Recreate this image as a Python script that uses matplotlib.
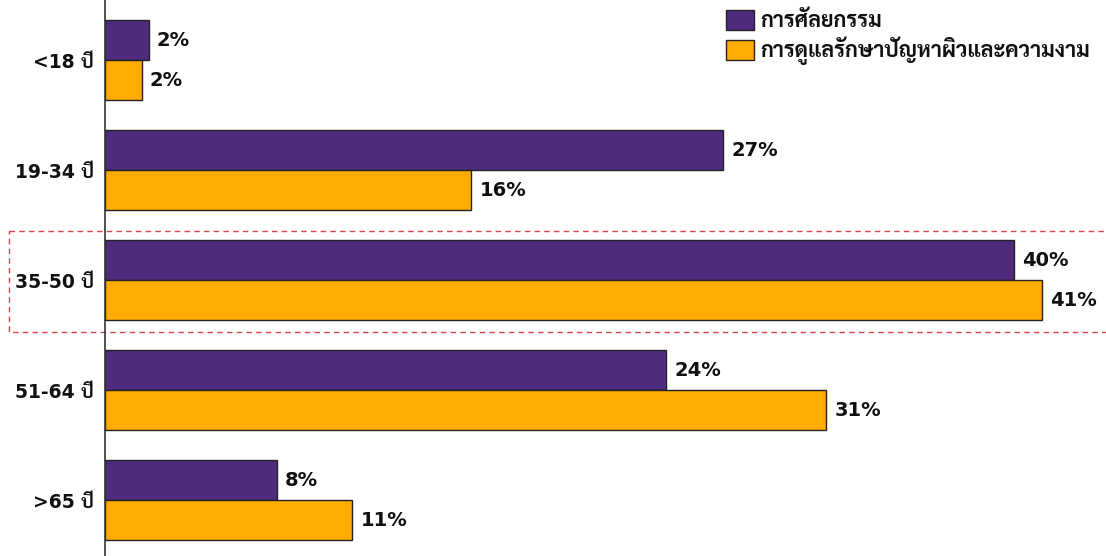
import matplotlib
matplotlib.use("Agg")
import matplotlib.pyplot as plt
from matplotlib.patches import Rectangle

plt.rcParams['font.family'] = ['DejaVu Sans', 'Sarabun', 'Noto Sans Thai Looped', 'Loma', 'Noto Sans Thai']

# age groups, top to bottom
groups = ["<18 ปี", "19-34 ปี", "35-50 ปี", "51-64 ปี", ">65 ปี"]
series_names = ["การศัลยกรรม", "การดูแลรักษาปัญหาผิวและความงาม"]
surgery = [1.9, 27.0, 39.7, 24.5, 7.5]
skincare = [1.6, 16.0, 40.9, 31.5, 10.8]
surgery_labels = ["2%", "27%", "40%", "24%", "8%"]
skincare_labels = ["2%", "16%", "41%", "31%", "11%"]

PURPLE = "#4f2b7e"
ORANGE = "#ffab00"
TEXT = "#111111"

W, H = 1106, 556
fig = plt.figure(figsize=(W / 100, H / 100), dpi=100)
ax = fig.add_axes([105 / W, 0, 1 - 105 / W, 1])

px_per_pct = 22.9
ax.set_xlim(0, (W - 105) / px_per_pct)
ax.set_ylim((H - 60) / 110, -60 / 110)

bh = 40 / 110
ys = range(len(groups))
for i in ys:
    ax.barh(i - bh / 2, surgery[i], height=bh, color=PURPLE, edgecolor="#222222", linewidth=1,
            label=series_names[0] if i == 0 else None)
    ax.barh(i + bh / 2, skincare[i], height=bh, color=ORANGE, edgecolor="#222222", linewidth=1,
            label=series_names[1] if i == 0 else None)
    ax.text(surgery[i] + 0.35, i - bh / 2, surgery_labels[i], va="center", ha="left",
            fontsize=14, fontweight="bold", color=TEXT)
    ax.text(skincare[i] + 0.35, i + bh / 2, skincare_labels[i], va="center", ha="left",
            fontsize=14, fontweight="bold", color=TEXT)

ax.set_yticks(list(ys))
ax.set_yticklabels(groups, fontsize=13.5, fontweight="bold", color=TEXT)
ax.tick_params(axis="y", length=0, pad=8)
ax.set_xticks([])
for s in ["top", "right", "bottom"]:
    ax.spines[s].set_visible(False)
ax.spines["left"].set_color("#333333")
ax.spines["left"].set_linewidth(1.2)

# dashed highlight around the 35-50 group
y0 = (231 - 60) / 110
y1 = (332 - 60) / 110
x0 = (9 - 105) / px_per_pct
ax.add_patch(Rectangle((x0, y0), 60, y1 - y0, fill=False, edgecolor="#d9434a",
                       linestyle=(0, (4, 3)), linewidth=1, clip_on=False))

ax.legend(loc="upper left", bbox_to_anchor=(717 / W, 1 - 1 / H), bbox_transform=fig.transFigure,
          frameon=False, prop={"size": 15.5, "weight": "bold"}, handlelength=1.3, handleheight=1.05,
          handletextpad=0.3, labelspacing=0.28, borderaxespad=0, labelcolor=TEXT)

fig.savefig("out.png", dpi=100)
